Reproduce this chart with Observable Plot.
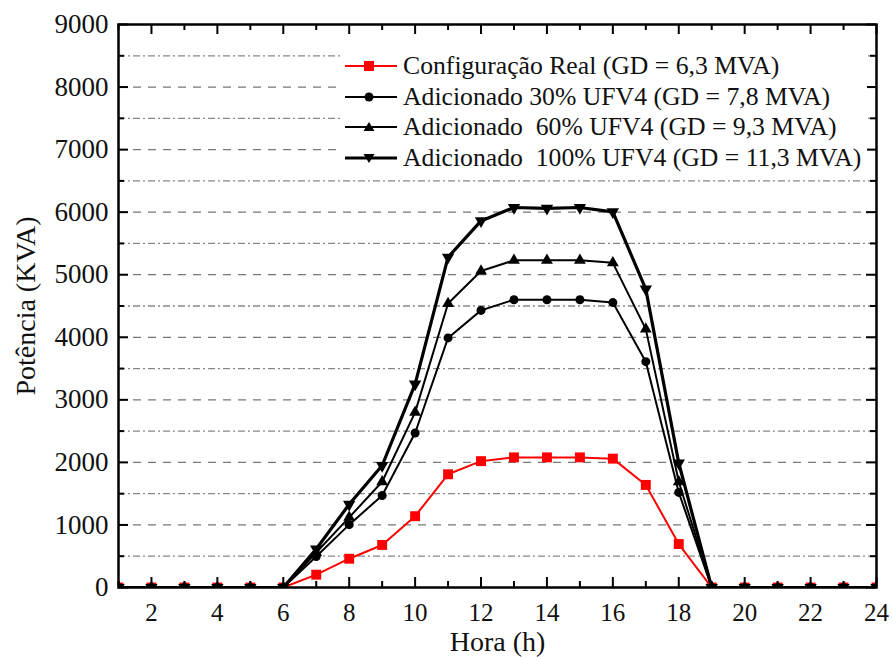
<!DOCTYPE html>
<html>
<head>
<meta charset="utf-8">
<script src="https://cdn.jsdelivr.net/npm/d3@7"></script>
<script src="https://cdn.jsdelivr.net/npm/@observablehq/plot@0.6"></script>
<style>
  html, body { margin: 0; padding: 0; background: #fff; }
  #wrap { position: relative; width: 892px; height: 657px; font-family: "Liberation Serif", "Times New Roman", serif; }
  #legend { position: absolute; left: 342px; top: 48px; width: 525px; height: 124px; background: #fff; }
  .row { position: absolute; left: 0; height: 30px; display: flex; align-items: center; font-size: 25.7px; color: #111; white-space: pre; font-family: "Liberation Serif", "Times New Roman", serif; }
  .row svg { margin-right: 5px; }
  g[aria-label="x-axis label"] text, g[aria-label="x-axis label"] { font-size: 28px; }
  g[aria-label="y-axis label"] text, g[aria-label="y-axis label"] { font-size: 28px; }
</style>
</head>
<body>
<div id="wrap"><div id="chart"></div><div id="legend"></div></div>
<script>
const hours = [1,2,3,4,5,6,7,8,9,10,11,12,13,14,15,16,17,18,19,20,21,22,23,24];
const real   = [0,0,0,0,0,0,205,460,680,1140,1810,2020,2080,2080,2080,2060,1640,695,0,0,0,0,0,0];
const ufv30  = [0,0,0,0,0,0,495,1005,1470,2470,3990,4430,4600,4600,4600,4555,3610,1520,0,0,0,0,0,0];
const ufv60  = [0,0,0,0,0,0,560,1120,1690,2800,4540,5060,5230,5230,5230,5190,4130,1690,0,0,0,0,0,0];
const ufv100 = [0,0,0,0,0,0,615,1330,1950,3250,5280,5860,6075,6060,6075,6005,4770,1990,0,0,0,0,0,0];

const seriesNames = [
  "Configuração Real (GD = 6,3 MVA)",
  "Adicionado 30% UFV4 (GD = 7,8 MVA)",
  "Adicionado  60% UFV4 (GD = 9,3 MVA)",
  "Adicionado  100% UFV4 (GD = 11,3 MVA)"
];
const xTicks = [2,4,6,8,10,12,14,16,18,20,22,24];
const xMinorTicks = [1,3,5,7,9,11,13,15,17,19,21,23];
const yTicks = [0,1000,2000,3000,4000,5000,6000,7000,8000,9000];
const yMinorTicks = [500,1500,2500,3500,4500,5500,6500,7500,8500];
const yGridMajor = [1000,2000,3000,4000,5000,6000,7000,8000];

const W = 892, H = 657, mL = 118, mR = 16, mT = 24, mB = 70;
const pW = W - mL - mR, pH = H - mT - mB;

const triDown = {
  draw(ctx, size) {
    const y = Math.sqrt(size / (3 * Math.sqrt(3)));
    ctx.moveTo(0, 2 * y);
    ctx.lineTo(-Math.sqrt(3) * y, -y);
    ctx.lineTo(Math.sqrt(3) * y, -y);
    ctx.closePath();
  }
};

const mk = (vals) => hours.map((h, i) => ({h, v: vals[i]}));
const series = [
  {data: mk(real), color: "#ff0000", width: 2, symbol: "square", r: 5.6},
  {data: mk(ufv30), color: "#000", width: 2, symbol: "circle", r: 4.5},
  {data: mk(ufv60), color: "#000", width: 2, symbol: "triangle", r: 4.4},
  {data: mk(ufv100), color: "#000", width: 3.2, symbol: triDown, r: 4.6}
];

const marks = [
  Plot.ruleY(yGridMajor, {stroke: "#777", strokeWidth: 1.3, strokeDasharray: "8,7"}),
  Plot.ruleY(yMinorTicks, {stroke: "#888", strokeWidth: 1.3, strokeDasharray: "7,3,2,3"}),
];
for (const s of series) {
  marks.push(Plot.line(s.data, {x: "h", y: "v", stroke: s.color, strokeWidth: s.width, clip: true}));
  marks.push(Plot.dot(s.data, {x: "h", y: "v", fill: s.color, stroke: "none", symbol: s.symbol, r: s.r, clip: true}));
}
marks.push(
  Plot.ruleX(xTicks, {insetTop: pH - 10, stroke: "#000", strokeWidth: 2}),
  Plot.ruleX(xMinorTicks, {insetTop: pH - 6, stroke: "#000", strokeWidth: 2}),
  Plot.ruleX(xTicks, {insetBottom: pH - 10, stroke: "#000", strokeWidth: 2}),
  Plot.ruleX(xMinorTicks, {insetBottom: pH - 6, stroke: "#000", strokeWidth: 2}),
  Plot.ruleY(yTicks, {insetRight: pW - 10, stroke: "#000", strokeWidth: 2}),
  Plot.ruleY(yMinorTicks, {insetRight: pW - 6, stroke: "#000", strokeWidth: 2}),
  Plot.ruleY(yTicks, {insetLeft: pW - 10, stroke: "#000", strokeWidth: 2}),
  Plot.ruleY(yMinorTicks, {insetLeft: pW - 6, stroke: "#000", strokeWidth: 2}),
  Plot.frame({stroke: "#000", strokeWidth: 2.5}),
  Plot.axisX({ticks: xTicks, tickSize: 0, tickPadding: 16, fontSize: 25, tickFormat: d => String(d),
    label: "Hora (h)", labelAnchor: "center", labelOffset: 63, labelArrow: "none"}),
  Plot.axisY({ticks: yTicks, tickSize: 0, tickPadding: 10, fontSize: 27, tickFormat: d => String(d),
    label: "Potência (KVA)", labelAnchor: "center", labelOffset: 103, labelArrow: "none"})
);

const chart = Plot.plot({
  width: W, height: H,
  marginLeft: mL, marginRight: mR, marginTop: mT, marginBottom: mB,
  style: {fontFamily: "'Liberation Serif', 'Times New Roman', serif", color: "#111", background: "#fff"},
  x: {domain: [1, 24]},
  y: {domain: [0, 9000]},
  marks
});
document.getElementById("chart").appendChild(chart);

// legend
const legend = document.getElementById("legend");
const sym = (s) => {
  const cx = 27, cy = 10;
  if (s.symbol === "square") return `<rect x="${cx-5}" y="${cy-5}" width="10" height="10" fill="${s.color}"/>`;
  if (s.symbol === "circle") return `<circle cx="${cx}" cy="${cy}" r="4.5" fill="${s.color}"/>`;
  if (s.symbol === "triangle") return `<path d="M${cx},${cy-5} L${cx-5.5},${cy+4} L${cx+5.5},${cy+4} Z" fill="${s.color}"/>`;
  return `<path d="M${cx},${cy+5} L${cx-5.5},${cy-4} L${cx+5.5},${cy-4} Z" fill="${s.color}"/>`;
};
series.forEach((s, i) => {
  const row = document.createElement("div");
  row.className = "row";
  row.style.top = (3 + i * 30.5) + "px";
  row.innerHTML = `<svg width="56" height="20"><line x1="3" x2="55" y1="10" y2="10" stroke="${s.color}" stroke-width="${s.width}"/>${sym(s)}</svg><span>${seriesNames[i]}</span>`;
  legend.appendChild(row);
});
</script>
</body>
</html>
